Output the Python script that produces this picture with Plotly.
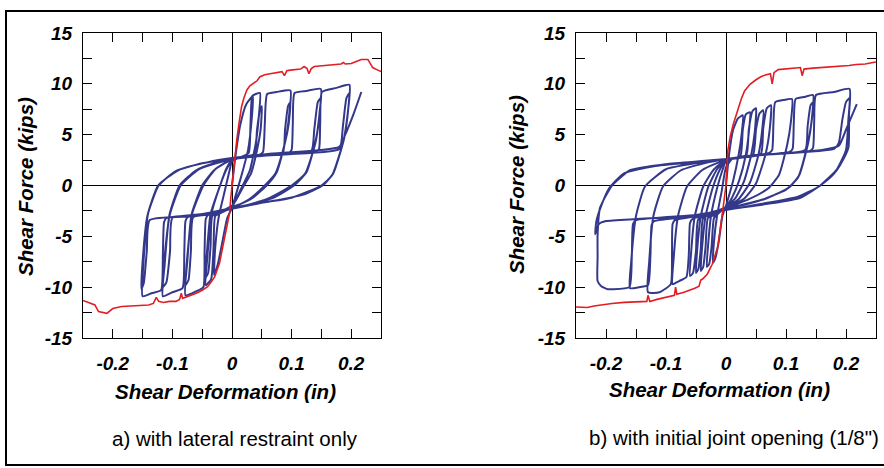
import plotly.graph_objects as go

# ---------------- data ----------------
X_TICKS = [-0.2, -0.15, -0.1, -0.05, 0, 0.05, 0.1, 0.15, 0.2]
X_TICK_LABELS = ["-0.2", "", "-0.1", "", "0", "", "0.1", "", "0.2"]
Y_TICKS = [-15, -12.5, -10, -7.5, -5, -2.5, 0, 2.5, 5, 7.5, 10, 12.5, 15]
Y_TICK_LABELS = ["-15", "", "-10", "", "-5", "", "0", "", "5", "", "10", "", "15"]

X_TITLE = "Shear Deformation (in)"
Y_TITLE = "Shear Force (kips)"
CAPTION_A = "a) with lateral restraint only"
CAPTION_B = "b) with initial joint opening (1/8\")"

# Panel a: monotonic envelope (red)
A_RED = [(-0.25, -11.3), (-0.24, -11.5), (-0.23, -11.75), (-0.224, -12.4), (-0.217, -12.5),
         (-0.21, -12.57), (-0.2, -12.1), (-0.185, -11.9), (-0.17, -11.85), (-0.155, -11.8),
         (-0.14, -11.75), (-0.132, -11.6), (-0.127, -11.0), (-0.123, -11.4), (-0.115, -11.5),
         (-0.105, -11.4), (-0.094, -11.4), (-0.088, -11.2), (-0.085, -10.6), (-0.083, -11.1),
         (-0.07, -10.85), (-0.06, -10.6), (-0.05, -10.3), (-0.041, -9.95), (-0.035, -9.5),
         (-0.029, -8.97), (-0.021, -7.65), (-0.015, -6.0), (-0.01, -4.4), (-0.007, -3.6),
         (-0.004, -2.7), (-0.002, -1.2), (0, 0), (0.003, 2.2), (0.008, 4.5), (0.012, 6.2),
         (0.016, 7.75), (0.02, 8.6), (0.025, 9.4), (0.03, 9.8), (0.036, 10.05), (0.042, 10.3),
         (0.047, 10.7), (0.055, 10.9), (0.064, 11.0), (0.075, 11.1), (0.084, 11.2), (0.088, 10.8),
         (0.092, 11.3), (0.098, 11.35), (0.107, 11.4), (0.115, 11.45), (0.121, 11.7), (0.126, 11.5),
         (0.129, 11.0), (0.133, 11.5), (0.138, 11.7), (0.15, 11.75), (0.16, 11.85), (0.172, 11.9),
         (0.183, 11.95), (0.187, 12.1), (0.19, 11.95), (0.2, 12.0), (0.21, 12.2), (0.217, 12.4),
         (0.228, 12.4), (0.232, 12.0), (0.236, 11.6), (0.243, 11.4), (0.25, 11.2)]

# Panel a: cyclic response (blue), one list per cycle
A_CYC0 = [(0, 0), (0.006, 3), (0.014, 6), (0.024, 8), (0.035, 8.8),
          (0.033, 6.5), (0.027, 3.5), (0.016, 1.0), (0.006, -1.0), (0, -2.2),
          (-0.008, -3.2), (-0.016, -5.5), (-0.024, -7.8), (-0.03, -8.8),
          (-0.028, -6), (-0.022, -3), (-0.012, -0.5), (-0.004, 1.5), (0, 2.4)]
A_CYC1 = [(0.015, 2.8), (0.028, 3.2), (0.031, 6), (0.034, 8.8), (0.04, 9.0), (0.047, 9.1),
          (0.045, 6.8), (0.04, 4.2), (0.03, 1.5), (0.018, 0), (0.008, -1.2), (0, -2.1),
          (-0.015, -2.6), (-0.028, -3.0), (-0.031, -6.2), (-0.035, -9.2), (-0.044, -9.8),
          (-0.041, -6.8), (-0.035, -2.9), (-0.02, 0), (-0.01, 1.5), (0, 2.5)]
A_CYC1B = [(0.02, 2.8), (0.038, 3.1), (0.042, 5.5), (0.047, 7.4), (0.05, 7.8),
           (0.048, 5.5), (0.042, 3.5), (0.032, 1.2), (0.02, 0), (0.008, -1.3), (0, -2.0),
           (-0.02, -2.6), (-0.033, -3.0), (-0.036, -6), (-0.04, -8.6), (-0.045, -9.1),
           (-0.042, -6.5), (-0.036, -2.8), (-0.02, 0), (-0.01, 1.6), (0, 2.5)]
A_CYC2 = [(0.02, 2.8), (0.045, 3.0), (0.052, 3.3), (0.055, 6.0), (0.059, 9.0), (0.075, 9.2), (0.098, 9.35),
          (0.096, 7.0), (0.09, 4.5), (0.075, 1.3), (0.058, 0), (0.035, -1.2), (0.015, -1.8), (0, -2.1),
          (-0.02, -2.6), (-0.04, -2.9), (-0.044, -3.3), (-0.046, -6.5), (-0.048, -10.0), (-0.06, -10.4),
          (-0.078, -10.8),
          (-0.075, -7.5), (-0.068, -2.9), (-0.05, 0), (-0.03, 1.5), (-0.012, 2.2), (0, 2.5)]
A_CYC2B = [(0.03, 2.9), (0.085, 3.2), (0.089, 5.5), (0.094, 7.8), (0.098, 8.2),
           (0.095, 6.0), (0.088, 4.0), (0.073, 1.2), (0.055, 0), (0.03, -1.3), (0, -2.2),
           (-0.03, -2.8), (-0.065, -3.1), (-0.069, -6.5), (-0.073, -9.3), (-0.078, -9.8),
           (-0.075, -7.0), (-0.067, -2.8), (-0.048, 0), (-0.028, 1.6), (0, 2.6)]
A_CYC3 = [(0.04, 2.9), (0.095, 3.2), (0.1, 3.5), (0.102, 6), (0.105, 9.1), (0.125, 9.3), (0.149, 9.5),
          (0.147, 7.2), (0.141, 4.6), (0.125, 1.3), (0.104, 0), (0.07, -1.2), (0.03, -1.9), (0, -2.2),
          (-0.04, -2.7), (-0.074, -3.1), (-0.078, -3.5), (-0.08, -6.5), (-0.083, -10.1), (-0.1, -10.5),
          (-0.116, -10.9),
          (-0.113, -7.8), (-0.105, -2.9), (-0.088, 0), (-0.06, 1.5), (-0.03, 2.2), (0, 2.6)]
A_CYC3B = [(0.05, 3.0), (0.133, 3.4), (0.138, 5.5), (0.144, 8.2), (0.149, 8.6),
           (0.146, 6.5), (0.14, 4.2), (0.123, 1.2), (0.1, 0), (0.06, -1.3), (0, -2.3),
           (-0.05, -2.9), (-0.1, -3.2), (-0.104, -6.5), (-0.11, -9.5), (-0.116, -10.0),
           (-0.113, -7.0), (-0.104, -2.8), (-0.086, 0), (-0.055, 1.6), (0, 2.6)]
A_CYC4 = [(0.05, 2.9), (0.14, 3.3), (0.146, 3.6), (0.148, 6.2), (0.151, 9.2), (0.175, 9.6), (0.197, 9.9),
          (0.195, 7.5), (0.188, 4.6), (0.17, 1.2), (0.152, 0), (0.12, -0.9), (0.08, -1.4), (0.04, -1.8),
          (0, -2.2),
          (-0.05, -2.8), (-0.11, -3.2), (-0.114, -3.6), (-0.116, -6.8), (-0.119, -10.3), (-0.135, -10.6),
          (-0.15, -10.9),
          (-0.149, -8.0), (-0.141, -2.8), (-0.123, 0), (-0.095, 1.4), (-0.05, 2.2), (0, 2.6)]
A_CYC4B = [(0.06, 3.0), (0.18, 3.6), (0.186, 5.8), (0.192, 8.6), (0.197, 9.1),
           (0.194, 7.0), (0.187, 4.4), (0.168, 1.0), (0.15, 0), (0.1, -1.2), (0.05, -1.7), (0, -2.3),
           (-0.06, -3.0), (-0.138, -3.4), (-0.143, -6.5), (-0.148, -9.6), (-0.152, -10.2),
           (-0.15, -7.5), (-0.142, -3.0), (-0.124, 0), (-0.09, 1.5), (-0.04, 2.3), (0, 2.7)]
A_FINAL = [(0.06, 3.1), (0.18, 3.8), (0.19, 5.0), (0.205, 7.2), (0.217, 9.2)]

# Panel b: monotonic envelope (red)
B_RED = [(-0.25, -11.95), (-0.24, -12.0), (-0.231, -12.0), (-0.22, -11.85), (-0.209, -11.75),
         (-0.19, -11.6), (-0.17, -11.5), (-0.15, -11.45), (-0.132, -11.4), (-0.13, -10.8),
         (-0.127, -11.4), (-0.115, -11.2), (-0.1, -11.0), (-0.086, -10.8), (-0.084, -10.0),
         (-0.082, -10.7), (-0.07, -10.5), (-0.059, -10.3), (-0.052, -10.1), (-0.045, -9.9),
         (-0.042, -9.3), (-0.039, -9.2), (-0.031, -8.7), (-0.023, -7.75), (-0.019, -7.0),
         (-0.014, -6.1), (-0.01, -4.5), (-0.006, -2.8), (-0.003, -1.5), (0, 0), (0.003, 3.4),
         (0.007, 4.8), (0.012, 6.0), (0.02, 7.6), (0.026, 8.6), (0.031, 9.3), (0.04, 9.95),
         (0.05, 10.4), (0.058, 10.7), (0.067, 10.9), (0.074, 11.0), (0.077, 10.0), (0.08, 11.1),
         (0.087, 11.4), (0.1, 11.45), (0.112, 11.5), (0.124, 11.6), (0.127, 10.8), (0.13, 11.45),
         (0.145, 11.55), (0.162, 11.6), (0.178, 11.7), (0.19, 11.75), (0.205, 11.8), (0.217, 11.9),
         (0.232, 11.95), (0.245, 12.1), (0.25, 12.15)]

# Panel b: cyclic response (blue)
B_CYC0 = [(0, 0), (0.005, 3.0), (0.012, 5.5), (0.02, 6.6), (0.028, 6.9),
          (0.026, 5), (0.021, 3.0), (0.012, 0.5), (0.004, -1.2), (0, -2.0),
          (-0.006, -3.0), (-0.012, -5.5), (-0.018, -7.2), (-0.022, -7.6),
          (-0.02, -5.5), (-0.015, -3.0), (-0.007, -0.5), (0, 1.8)]
B_CYC1 = [(0.01, 2.6), (0.024, 2.9), (0.028, 5.5), (0.033, 7.0), (0.04, 7.2),
          (0.038, 5.2), (0.033, 3.0), (0.022, 0.5), (0.01, -1.2), (0, -2.1),
          (-0.012, -2.7), (-0.02, -3.2), (-0.024, -6.0), (-0.028, -7.7), (-0.032, -8.0),
          (-0.03, -6.0), (-0.025, -3.0), (-0.015, -0.3), (-0.006, 1.5), (0, 2.4)]
B_CYC2 = [(0.015, 2.7), (0.034, 3.0), (0.038, 5.5), (0.044, 7.3), (0.05, 7.6),
          (0.048, 5.3), (0.042, 3.0), (0.03, 0.4), (0.015, -1.3), (0, -2.1),
          (-0.015, -2.8), (-0.03, -3.2), (-0.034, -6.0), (-0.038, -8.0), (-0.042, -8.4),
          (-0.04, -6.2), (-0.034, -3.0), (-0.022, -0.2), (-0.01, 1.6), (0, 2.5)]
B_CYC3 = [(0.02, 2.7), (0.045, 3.0), (0.05, 5.5), (0.056, 7.1), (0.062, 7.4),
          (0.06, 5.3), (0.054, 3.0), (0.04, 0.3), (0.02, -1.4), (0, -2.1),
          (-0.02, -2.8), (-0.038, -3.2), (-0.042, -6.2), (-0.046, -8.2), (-0.05, -8.6),
          (-0.048, -6.3), (-0.042, -3.0), (-0.03, -0.2), (-0.015, 1.6), (0, 2.5)]
B_CYC4 = [(0.02, 2.7), (0.058, 3.1), (0.062, 5.6), (0.068, 7.6), (0.075, 7.9),
          (0.073, 5.6), (0.066, 3.1), (0.05, 0.2), (0.03, -1.3), (0, -2.2),
          (-0.02, -2.8), (-0.046, -3.3), (-0.05, -6.4), (-0.055, -8.6), (-0.06, -8.9),
          (-0.058, -6.5), (-0.052, -3.0), (-0.038, -0.1), (-0.02, 1.6), (0, 2.5)]
B_CYC5 = [(0.03, 2.8), (0.072, 3.2), (0.077, 3.5), (0.079, 6.0), (0.082, 8.2), (0.095, 8.4), (0.11, 8.5),
          (0.108, 6.2), (0.102, 4.0), (0.088, 1.0), (0.07, -0.3), (0.04, -1.3), (0.015, -1.9), (0, -2.2),
          (-0.03, -2.8), (-0.056, -3.3), (-0.06, -3.7), (-0.062, -6.8), (-0.066, -9.0), (-0.078, -9.4),
          (-0.089, -9.7),
          (-0.087, -7.0), (-0.08, -3.0), (-0.065, -0.1), (-0.04, 1.5), (-0.015, 2.2), (0, 2.5)]
B_CYC6 = [(0.04, 2.9), (0.106, 3.3), (0.111, 3.6), (0.113, 6.2), (0.116, 8.5), (0.13, 8.7), (0.145, 8.9),
          (0.143, 6.5), (0.137, 4.2), (0.122, 1.0), (0.105, -0.2), (0.07, -1.2), (0.03, -1.9), (0, -2.2),
          (-0.04, -2.9), (-0.085, -3.4), (-0.089, -3.8), (-0.09, -7.0), (-0.092, -9.7), (-0.111, -10.5),
          (-0.13, -10.5),
          (-0.128, -7.5), (-0.121, -3.0), (-0.105, -0.1), (-0.075, 1.5), (-0.035, 2.2), (0, 2.6)]
B_CYC7 = [(0.05, 3.0), (0.132, 3.5), (0.136, 5.8), (0.141, 7.9), (0.145, 8.2),
          (0.142, 6.0), (0.135, 3.8), (0.12, 0.8), (0.1, -0.4), (0.06, -1.4), (0, -2.3),
          (-0.05, -3.0), (-0.12, -3.5), (-0.124, -3.9), (-0.126, -7.0), (-0.13, -9.8), (-0.145, -10.0),
          (-0.16, -10.1),
          (-0.158, -7.5), (-0.15, -3.0), (-0.135, -0.1), (-0.1, 1.6), (-0.05, 2.2), (0, 2.6)]
B_CYC8 = [(0.05, 3.0), (0.14, 3.4), (0.145, 3.7), (0.147, 6.3), (0.15, 8.9), (0.18, 9.2), (0.206, 9.5),
          (0.205, 7.0), (0.204, 3.7), (0.19, 2.0), (0.179, 1.1), (0.157, 0), (0.124, -1.2), (0.07, -1.8),
          (0.023, -2.2), (0, -2.4),
          (-0.05, -2.9), (-0.15, -3.4), (-0.155, -3.8), (-0.157, -7.0), (-0.161, -10.0), (-0.19, -10.2),
          (-0.197, -10.2), (-0.208, -9.9), (-0.214, -9.4),
          (-0.214, -7.0), (-0.214, -4.8), (-0.21, -2.2), (-0.19, 0), (-0.16, 1.5), (-0.1, 2.1),
          (-0.04, 2.4), (0, 2.6)]
B_CYC9 = [(0.06, 3.0), (0.18, 3.6), (0.188, 4.2), (0.194, 6.5), (0.2, 8.2), (0.206, 8.6),
          (0.204, 6.5), (0.2, 3.5), (0.185, 1.6), (0.17, 0.7), (0.155, -0.1), (0.12, -1.1), (0.06, -1.8),
          (0, -2.4),
          (-0.06, -3.0), (-0.15, -3.3), (-0.2, -3.5), (-0.212, -3.8), (-0.218, -4.8),
          (-0.216, -3.5), (-0.208, -2.0), (-0.195, -0.3), (-0.17, 1.2), (-0.12, 1.9), (-0.05, 2.3),
          (0, 2.6)]
B_FINAL = [(0.06, 3.0), (0.16, 3.5), (0.188, 3.9), (0.2, 5.5), (0.218, 8.0)]

# ---------------- styling ----------------
W, H = 884, 468
BLUE = "rgb(52,56,138)"
RED = "rgb(226,30,36)"
FONT = "Arial, Liberation Sans, sans-serif"

A_CYCLES = [A_CYC0, A_CYC1, A_CYC1B, A_CYC2, A_CYC2B, A_CYC3, A_CYC3B, A_CYC4, A_CYC4B, A_FINAL]
B_CYCLES = [B_CYC0, B_CYC1, B_CYC2, B_CYC3, B_CYC4, B_CYC5, B_CYC6, B_CYC7, B_CYC8, B_CYC9, B_FINAL]


def path(cycles):
    xs, ys = [], []
    for c in cycles:
        for p in c:
            xs.append(p[0])
            ys.append(p[1])
    return xs, ys


fig = go.Figure()

for cycles, red, ax in [(A_CYCLES, A_RED, ""), (B_CYCLES, B_RED, "2")]:
    bx, by = path(cycles)
    fig.add_trace(go.Scatter(x=bx, y=by, mode="lines",
                             line=dict(color=BLUE, width=2, shape="spline", smoothing=0.5),
                             xaxis="x" + ax, yaxis="y" + ax, showlegend=False, hoverinfo="skip"))
    rx, ry = path([red])
    fig.add_trace(go.Scatter(x=rx, y=ry, mode="lines", line=dict(color=RED, width=1.6),
                             xaxis="x" + ax, yaxis="y" + ax, showlegend=False, hoverinfo="skip"))

tickfont = dict(family=FONT, size=19, color="black", weight="bold", style="italic")


def xaxis(domain, anchor):
    return dict(domain=domain, anchor=anchor, range=[-0.25, 0.25], showgrid=False, automargin=False,
                zeroline=True, zerolinecolor="black", zerolinewidth=1,
                showline=True, linecolor="black", linewidth=1, mirror="allticks",
                ticks="inside", ticklen=9, tickcolor="black", tickwidth=1,
                tickvals=X_TICKS, ticktext=X_TICK_LABELS, tickfont=tickfont,
                ticklabelstandoff=8)


def yaxis(domain, anchor):
    return dict(domain=domain, anchor=anchor, range=[-15, 15], showgrid=False, automargin=False,
                zeroline=True, zerolinecolor="black", zerolinewidth=1,
                showline=True, linecolor="black", linewidth=1, mirror="allticks",
                ticks="inside", ticklen=9, tickcolor="black", tickwidth=1,
                tickvals=Y_TICKS, ticktext=Y_TICK_LABELS, tickfont=tickfont,
                ticklabelstandoff=6)


ydom = [1 - 338 / H, 1 - 33 / H]
fig.update_layout(
    width=W, height=H,
    margin=dict(l=0, r=0, t=0, b=0, pad=0, autoexpand=False),
    paper_bgcolor="white", plot_bgcolor="white",
    xaxis=xaxis([83 / W, 381 / W], "y"),
    yaxis=yaxis(ydom, "x"),
    xaxis2=xaxis([576 / W, 876 / W], "y2"),
    yaxis2=yaxis(ydom, "x2"),
)

titlefont = dict(family=FONT, size=20.5, color="black", weight="bold", style="italic")
capfont = dict(family=FONT, size=20.5, color="black")


def ann(text, px, py, font, angle=0):
    fig.add_annotation(text=text, x=px / W, y=1 - py / H, xref="paper", yref="paper",
                       showarrow=False, font=font, textangle=angle,
                       xanchor="center", yanchor="middle")


ann(X_TITLE, 226, 391, titlefont)
ann(X_TITLE, 719, 389, titlefont)
ann(Y_TITLE, 25, 187, titlefont, -90)
ann(Y_TITLE, 517, 185, titlefont, -90)
ann(CAPTION_A, 235, 438, capfont)
ann(CAPTION_B, 734, 437, capfont)

fig.add_shape(type="rect", xref="paper", yref="paper",
              x0=6 / W, x1=1.05, y0=1 - 465 / H, y1=1 - 11 / H,
              line=dict(color="black", width=2), fillcolor="rgba(0,0,0,0)")

fig.write_html("out.html", config={"displayModeBar": False},
               post_script="document.body.style.margin='0px';")
